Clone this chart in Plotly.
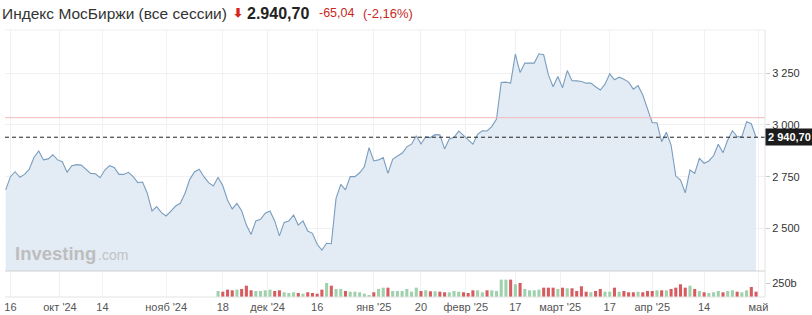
import plotly.graph_objects as go

# ---------------- data ----------------
prices = [2686, 2750, 2774, 2747, 2761, 2786, 2844, 2874, 2831, 2836,
          2856, 2831, 2822, 2771, 2803, 2808, 2806, 2786, 2766, 2764,
          2745, 2782, 2803, 2795, 2761, 2761, 2771, 2750, 2721, 2724,
          2670, 2584, 2605, 2576, 2560, 2584, 2608, 2621, 2670, 2737,
          2773, 2786, 2750, 2721, 2705, 2747, 2706, 2637, 2594, 2621,
          2585, 2516, 2471, 2536, 2544, 2573, 2584, 2536, 2464, 2529,
          2536, 2565, 2516, 2536, 2487, 2476, 2423, 2395, 2428, 2426,
          2645, 2713, 2686, 2750, 2750, 2769, 2798, 2890, 2826, 2831,
          2842, 2766, 2834, 2850, 2863, 2894, 2907, 2948, 2908, 2943,
          2939, 2953, 2952, 2884, 2932, 2940, 2970, 2950, 2927, 2907,
          2955, 2972, 2971, 2992, 3029, 3205, 3207, 3202, 3342, 3253,
          3299, 3299, 3299, 3344, 3339, 3242, 3185, 3234, 3180, 3263,
          3214, 3213, 3210, 3202, 3202, 3185, 3169, 3197, 3247, 3218,
          3231, 3221, 3207, 3173, 3190, 3145, 3082, 3011, 3011, 2919,
          2965, 2903, 2753, 2734, 2672, 2782, 2766, 2839, 2815, 2826,
          2851, 2907, 2866, 2927, 2972, 2943, 2943, 3016, 3005.74, 2940.70]

# volume (billions RUB) for the last trading days shown with bars
volumes = [112, 99, 137, 125, 137, 150, 211, 125, 112, 112,
           125, 137, 112, 125, 88, 75, 88, 75, 62, 88,
           75, 62, 137, 262, 211, 150, 150, 112, 99, 99,
           88, 62, 37, 88, 150, 174, 174, 112, 112, 112,
           150, 99,
           174, 112, 125, 107, 107, 99, 88, 88, 112, 99,
           88, 75, 125, 125, 88, 125, 125, 112, 324, 324,
           324, 237, 262, 150, 125, 125, 137, 174, 174, 174,
           150, 174, 163, 163, 112, 200, 99, 88, 112, 150,
           99, 99, 174, 99, 112, 88, 88, 99, 88, 112,
           112, 125, 125, 125, 150, 174, 237, 174, 211, 150,
           112, 88, 75, 88, 112, 88, 112, 125, 99, 88,
           125, 187, 99]

tick_pos = [1, 11.5, 20.5, 34, 46, 55.5, 66, 78, 88, 97.5, 108, 117.5, 128, 137, 148, 159.5]
tick_labels = ["16", "окт '24", "14", "нояб '24", "18", "дек '24", "16", "янв '25",
               "20", "февр '25", "17", "март '25", "17", "апр '25", "14", "май"]

price_ticks = [2500, 2750, 3000, 3250]
price_tick_labels = ["2 500", "2 750", "3 000", "3 250"]
vol_ticks = [250]
vol_tick_labels = ["250b"]

last_price = 2940.70
ref_level = 3035
title = "Индекс МосБиржи (все сессии)"
last_text = "2.940,70"
chg_text = "-65,04"
chg_pct_text = "(-2,16%)"

# ---------------- figure ----------------
x_idx = list(range(len(prices)))
vol_start = len(prices) - len(volumes)
vol_x = x_idx[vol_start:]
vol_colors = ["#9fd1ac" if prices[i] >= prices[i - 1] else "#d65c60" for i in vol_x]

FONT = "Liberation Sans, Arial, sans-serif"

fig = go.Figure()
fig.add_trace(go.Scatter(
    x=x_idx, y=prices, mode="lines",
    line=dict(color="#7a9dbe", width=1.1),
    fill="tozeroy", fillcolor="#e3ecf5",
    hoverinfo="skip", xaxis="x", yaxis="y"))
fig.add_trace(go.Bar(
    x=vol_x, y=volumes, marker=dict(color=vol_colors, line=dict(width=0)),
    hoverinfo="skip", xaxis="x", yaxis="y2"))

W, H = 812, 315
ml, mr, mt, mb = 5, 47, 30, 18
split = 26 / (H - mt - mb)

fig.update_layout(
    width=W, height=H,
    margin=dict(l=ml, r=mr, t=mt, b=mb, pad=0, autoexpand=False),
    paper_bgcolor="white", plot_bgcolor="white",
    showlegend=False, bargap=0.35,
    font=dict(family=FONT, size=11, color="#333"),
    xaxis=dict(range=[-0.15, 160.9], anchor="y2", tickmode="array",
               tickvals=tick_pos, ticktext=tick_labels,
               showgrid=True, gridcolor="#f1f1f1", gridwidth=1,
               ticks="", automargin=False, ticklabelstandoff=2,
               tickfont=dict(size=11, color="#555"), showline=False,
               zeroline=False, fixedrange=True),
    yaxis=dict(domain=[split, 1], range=[2294, 3459], side="right",
               tickmode="array", tickvals=price_ticks, ticktext=price_tick_labels,
               showgrid=True, gridcolor="#f1f1f1", ticks="outside", ticklen=4,
               tickcolor="#ccc", tickfont=dict(size=11, color="#333"),
               zeroline=False, showline=False, automargin=False),
    yaxis2=dict(domain=[0, split], range=[0, 485], side="right",
                tickmode="array", tickvals=vol_ticks, ticktext=vol_tick_labels,
                showgrid=False, ticks="outside", ticklen=4, tickcolor="#ccc",
                tickfont=dict(size=11, color="#333"), zeroline=False, showline=False,
                automargin=False),
)

shapes = [
    dict(type="line", xref="x domain", yref="y", x0=0, x1=1, y0=ref_level, y1=ref_level,
         line=dict(color="#f3b9b9", width=1)),
    dict(type="line", xref="paper", yref="y", x0=0, x1=1, y0=last_price, y1=last_price,
         line=dict(color="#222", width=1, dash="4px,3px")),
    dict(type="line", xref="x domain", yref="y domain", x0=0, x1=1, y0=0, y1=0,
         line=dict(color="#cfcfcf", width=1)),
    dict(type="line", xref="x domain", yref="y2 domain", x0=0, x1=1, y0=0, y1=0,
         line=dict(color="#e3e3e3", width=1)),
    dict(type="line", xref="x domain", yref="y domain", x0=0, x1=1, y0=1, y1=1,
         line=dict(color="#efefef", width=1)),
    dict(type="line", xref="x domain", yref="paper", x0=1, x1=1, y0=0, y1=1,
         line=dict(color="#e3e3e3", width=1)),
]
fig.update_layout(shapes=shapes)

def px_x(px):
    return (px - ml) / (W - ml - mr)

def px_y(py):
    return (H - mb - py) / (H - mt - mb)

ann = [
    dict(text=title, x=px_x(0), y=px_y(13), font=dict(size=15.5, color="#333")),
    dict(text="<b>⬇</b>", x=px_x(231), y=px_y(13), font=dict(size=12, color="#d9261c")),
    dict(text="<b>" + last_text + "</b>", x=px_x(245), y=px_y(13), font=dict(size=16, color="#222")),
    dict(text=chg_text, x=px_x(317), y=px_y(13), font=dict(size=12.5, color="#c8281e")),
    dict(text=chg_pct_text, x=px_x(361), y=px_y(13), font=dict(size=13, color="#c8281e")),
    dict(text="<b>Investing</b>", x=px_x(13), y=px_y(253), font=dict(size=18.5, color="#bdbdbd")),
    dict(text=".com", x=px_x(96), y=px_y(255), font=dict(size=14, color="#c2c2c2")),
]
for a in ann:
    a.update(xref="paper", yref="paper", xanchor="left", yanchor="middle", showarrow=False)
ann.append(dict(text="<b>2 940,70</b>", xref="paper", yref="y", x=1, y=last_price,
                xanchor="left", yanchor="middle", showarrow=False,
                bgcolor="#1c1c1c", borderpad=2, font=dict(size=11, color="white")))
fig.update_layout(annotations=ann)

fig.write_html("out.html")
